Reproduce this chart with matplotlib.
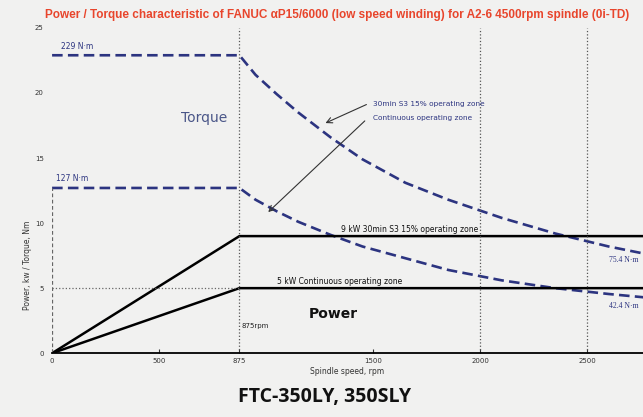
import matplotlib.pyplot as plt

# torque curves (N·m), speed in rpm
rpm_s3 = [0, 875, 950, 1050, 1150, 1300, 1450, 1650, 1850, 2100, 2350, 2600, 2800]
torque_s3 = [229, 229, 214, 199, 185, 166, 149, 131, 118, 104, 92, 82, 75.4]
rpm_cont = [0, 875, 950, 1050, 1150, 1300, 1450, 1650, 1850, 2100, 2350, 2600, 2800]
torque_cont = [127, 127, 118, 109, 101, 91, 82, 73, 64, 56, 50, 45.5, 42.4]

# power curves (kW)
rpm_pow = [0, 875, 2800]
power_s3 = [0, 9, 9]
power_cont = [0, 5, 5]

base_rpm = 875
grid_rpm = [875, 2000, 2500]
xticks = [0, 500, 875, 1500, 2000, 2500]
yticks = [0, 5, 10, 15, 20, 25]

bg = '#f1f1f0'
navy = '#2c3480'

fig = plt.figure(figsize=(6.43, 4.17), dpi=100, facecolor=bg)
ax = fig.add_axes([0.081, 0.153, 0.919, 0.78], facecolor=bg)

# torque drawn at 1/10 scale on the shared axis
ax.plot(rpm_s3, [t / 10 for t in torque_s3], color=navy, lw=1.9, ls=(0, (4, 2)))
ax.plot(rpm_cont, [t / 10 for t in torque_cont], color=navy, lw=1.9, ls=(0, (4, 2)))

ax.plot(rpm_pow, power_s3, color='black', lw=1.8)
ax.plot(rpm_pow, power_cont, color='black', lw=1.8)

for r in grid_rpm:
    ax.axvline(r, color='#555555', lw=0.9, ls=':')
ax.plot([0, 0], [0, torque_cont[0] / 10], color='#666666', lw=0.9, ls=(0, (3, 2)))
ax.plot([0, base_rpm], [5, 5], color='#666666', lw=0.9, ls=':')

ax.set_xlim(0, 2760)
ax.set_ylim(0, 25)
for s in ['top', 'right', 'left']:
    ax.spines[s].set_visible(False)
ax.spines['bottom'].set_linewidth(1.3)
ax.set_xticks(xticks)
ax.set_yticks(yticks)
ax.tick_params(axis='x', labelsize=5, colors='#333333', length=3, direction='in')
ax.tick_params(axis='y', labelsize=5, colors='#333333', length=0, pad=6)
ax.set_xlabel('Spindle speed, rpm', fontsize=5.5, color='#333333', labelpad=2)
ax.set_ylabel('Power, kw / Torque, Nm', fontsize=5.5, color='#333333', labelpad=4)
ax.yaxis.set_label_coords(-0.034, 0.27)

# text labels
ax.text(40, 23.4, '229 N·m', fontsize=5.5, color=navy)
ax.text(20, 13.2, '127 N·m', fontsize=5.5, color=navy)
ax.text(2600, 7.0, '75.4 N·m', fontsize=5.5, color=navy, family='Liberation Serif')
ax.text(2600, 3.5, '42.4 N·m', fontsize=5.5, color=navy, family='Liberation Serif')
ax.text(600, 17.8, 'Torque', fontsize=10, color='#4a5688')
ax.text(1200, 2.7, 'Power', fontsize=10, color='#111111', fontweight='bold')
ax.text(base_rpm + 10, 1.9, '875rpm', fontsize=5, color='#222222')
ax.text(1350, 9.3, '9 kW 30min S3 15% operating zone', fontsize=5.5, color='#111111')
ax.text(1050, 5.3, '5 kW Continuous operating zone', fontsize=5.5, color='#111111')
ax.text(1500, 19.0, '30min S3 15% operating zone', fontsize=5.3, color=navy)
ax.text(1500, 17.9, 'Continuous operating zone', fontsize=5.3, color=navy)
ax.annotate('', xy=(1265, 17.6), xytext=(1480, 19.2),
            arrowprops=dict(arrowstyle='->', color='#333333', lw=0.8))
ax.annotate('', xy=(1000, 10.7), xytext=(1470, 18.0),
            arrowprops=dict(arrowstyle='->', color='#333333', lw=0.8))

fig.text(0.07, 0.965, 'Power / Torque characteristic of FANUC αP15/6000 (low speed winding) '
         'for A2-6 4500rpm spindle (0i-TD)', fontsize=8.5, color='#e8452c',
         fontweight='bold', family='Liberation Sans', va='center')
fig.text(0.505, 0.048, 'FTC-350LY, 350SLY', fontsize=14, color='#111111',
         fontweight='bold', ha='center', va='center', family='Open Sans')

plt.savefig('out.png', dpi=100, facecolor=bg)
